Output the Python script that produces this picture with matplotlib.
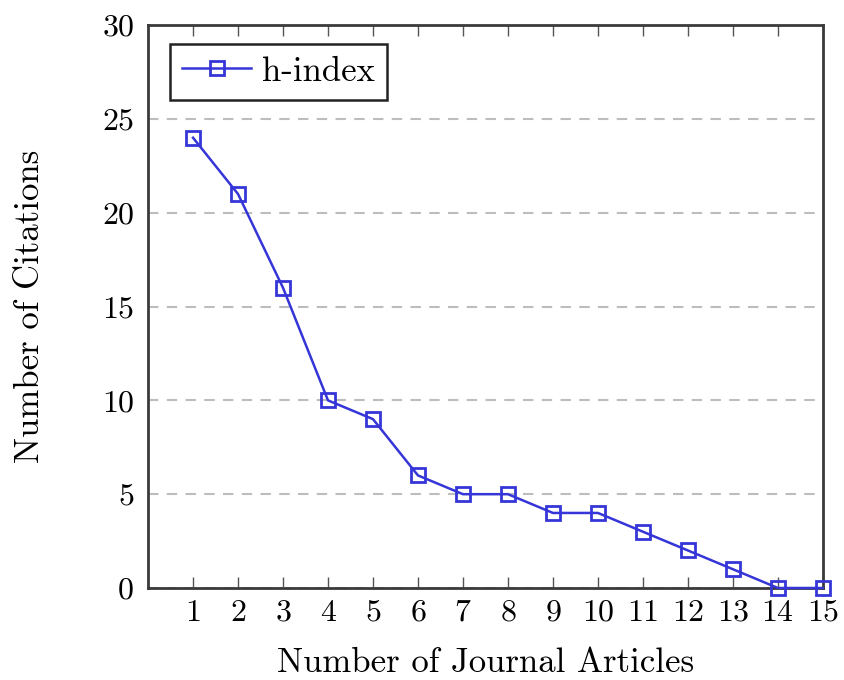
import matplotlib.pyplot as plt

articles = [1, 2, 3, 4, 5, 6, 7, 8, 9, 10, 11, 12, 13, 14, 15]
citations = [24, 21, 16, 10, 9, 6, 5, 5, 4, 4, 3, 2, 1, 0, 0]
yticks = [0, 5, 10, 15, 20, 25, 30]

plt.rcParams['font.family'] = ['cmr10', 'DejaVu Serif']
plt.rcParams['axes.formatter.use_mathtext'] = True

fig = plt.figure(figsize=(8.44, 6.8), dpi=100)
ax = fig.add_axes([0.1754, 0.1353, 0.7996, 0.8277])

ax.plot(articles, citations, color='#3535d8', lw=1.8, marker='s', ms=10,
        mfc='none', mec='#3535d8', mew=2, label='h-index', clip_on=False, zorder=3)

ax.set_xlim(0, 15)
ax.set_ylim(0, 30)
ax.set_xticks(articles)
ax.set_yticks(yticks)
ax.yaxis.grid(True, ls=(0, (5, 4)), color='#bdbdbd', lw=1.5)
ax.set_axisbelow(True)

ax.tick_params(axis='x', direction='in', top=True, length=8, width=1, labelsize=23, pad=8,
               color='#555555')
ax.tick_params(axis='y', direction='in', length=0, labelsize=23, pad=10)
for s in ax.spines.values():
    s.set_linewidth(2)
    s.set_color('#3a3a3a')

ax.set_xlabel('Number of Journal Articles', fontsize=25, labelpad=15)
ax.set_ylabel('Number of Citations', fontsize=25, labelpad=40)

leg = ax.legend(loc='upper left', fontsize=25, fancybox=False, framealpha=1,
                edgecolor='#222222', borderpad=0.35, handlelength=2.0, handletextpad=0.3,
                borderaxespad=0, bbox_to_anchor=(0.032, 0.967))
leg.get_frame().set_linewidth(1.8)

fig.savefig('out.png', dpi=100)
